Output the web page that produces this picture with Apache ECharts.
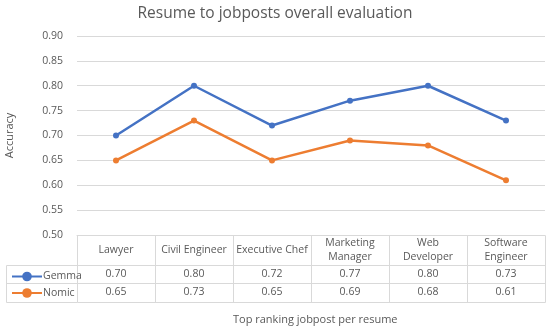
<!DOCTYPE html>
<html><head><meta charset="utf-8">
<script src="https://cdn.jsdelivr.net/npm/echarts@6/dist/echarts.min.js"></script>
<style>html,body{margin:0;padding:0;background:#fff}#c{width:550px;height:330px}</style>
</head><body><div id="c"></div>
<script>
var categories = ['Lawyer', 'Civil Engineer', 'Executive Chef', 'Marketing Manager', 'Web Developer', 'Software Engineer'];
var headerLabels = ['Lawyer', 'Civil Engineer', 'Executive Chef', 'Marketing\nManager', 'Web\nDeveloper', 'Software\nEngineer'];
var gemma = [0.70, 0.80, 0.72, 0.77, 0.80, 0.73];
var nomic = [0.65, 0.73, 0.65, 0.69, 0.68, 0.61];

var FONT = 'Open Sans';
var TXT = '#595959';
var GRID = '#d9d9d9';
var BLUE = '#4472C4';
var ORANGE = '#ED7D31';
var ROW_OFFSETS = [0, 30, 48, 67];

var chart = echarts.init(document.getElementById('c'), null, {renderer: 'canvas'});

function tableAxis(offset, rowH, labels) {
  return {
    type: 'category', data: categories, position: 'bottom', offset: offset, boundaryGap: true,
    axisLine: {show: true, lineStyle: {color: GRID, width: 1}},
    axisTick: {show: false},
    axisLabel: {show: true, interval: 0, color: TXT, fontFamily: FONT, fontSize: 10.5,
      lineHeight: 14, verticalAlign: 'middle', align: 'center',
      margin: rowH / 2,
      formatter: function (v, i) { return labels[i]; }},
    splitLine: {show: false}
  };
}

var option = {
  animation: false,
  title: [
    {text: 'Resume to jobposts overall evaluation', left: 'center', top: 1,
      textStyle: {fontFamily: FONT, fontSize: 15.5, fontWeight: 'normal', color: TXT}},
    {text: 'Top ranking jobpost per resume', left: 228, top: 309,
      textStyle: {fontFamily: FONT, fontSize: 11, fontWeight: 'normal', color: TXT}}
  ],
  legend: {orient: 'vertical', left: 6, top: 266, itemWidth: 30, itemHeight: 12, itemGap: 5.5,
    textStyle: {fontFamily: FONT, fontSize: 10.5, color: TXT, padding: [0, 0, 0, -4]},
    data: ['Gemma', 'Nomic']},
  grid: {left: 77, right: 5, top: 36, bottom: 95, containLabel: false, outerBoundsMode: 'none'},
  xAxis: [
    tableAxis(ROW_OFFSETS[0], 30, headerLabels),
    tableAxis(ROW_OFFSETS[1], 18, gemma.map(function (v) { return v.toFixed(2); })),
    tableAxis(ROW_OFFSETS[2], 19, nomic.map(function (v) { return v.toFixed(2); }))
  ],
  yAxis: {
    type: 'value', min: 0.5, max: 0.9, interval: 0.05,
    name: 'Accuracy', nameLocation: 'middle', nameGap: 62,
    nameTextStyle: {fontFamily: FONT, fontSize: 11, color: TXT},
    axisLine: {show: false}, axisTick: {show: false},
    axisLabel: {color: TXT, fontFamily: FONT, fontSize: 10.5, margin: 14,
      formatter: function (v) { return v.toFixed(2); }},
    splitLine: {lineStyle: {color: GRID, width: 1}}
  },
  series: [
    {name: 'Gemma', type: 'line', data: gemma, xAxisIndex: 0, color: BLUE,
      symbol: 'circle', symbolSize: 6, lineStyle: {width: 2.5, color: BLUE}, itemStyle: {color: BLUE}},
    {name: 'Nomic', type: 'line', data: nomic, xAxisIndex: 0, color: ORANGE,
      symbol: 'circle', symbolSize: 6, lineStyle: {width: 2.5, color: ORANGE}, itemStyle: {color: ORANGE}}
  ]
};
chart.setOption(option);

var centers = categories.map(function (c, i) { return chart.convertToPixel({xAxisIndex: 0}, i); });
var bw = centers.length > 1 ? centers[1] - centers[0] : 0;
var bounds = centers.map(function (c) { return c - bw / 2; });
bounds.push(centers[centers.length - 1] + bw / 2);
var y0 = chart.convertToPixel({yAxisIndex: 0}, 0.5);
var ys = ROW_OFFSETS.map(function (o) { return Math.round(y0 + o) + 0.5; });
var leftX = 6.5;
var g = [];
bounds.forEach(function (x) {
  var xx = Math.round(x) + 0.5;
  g.push({type: 'line', silent: true, shape: {x1: xx, y1: ys[0], x2: xx, y2: ys[3]}, style: {stroke: GRID, lineWidth: 1}});
});
[1, 2, 3].forEach(function (k) {
  g.push({type: 'line', silent: true, shape: {x1: leftX, y1: ys[k], x2: Math.round(bounds[0]) + 0.5, y2: ys[k]}, style: {stroke: GRID, lineWidth: 1}});
});
g.push({type: 'line', silent: true, shape: {x1: leftX, y1: ys[1], x2: leftX, y2: ys[3]}, style: {stroke: GRID, lineWidth: 1}});
g.push({type: 'line', silent: true, shape: {x1: Math.round(bounds[0]) + 0.5, y1: ys[3], x2: Math.round(bounds[bounds.length - 1]) + 0.5, y2: ys[3]}, style: {stroke: GRID, lineWidth: 1}});
chart.setOption({graphic: g});
</script>
</body></html>
